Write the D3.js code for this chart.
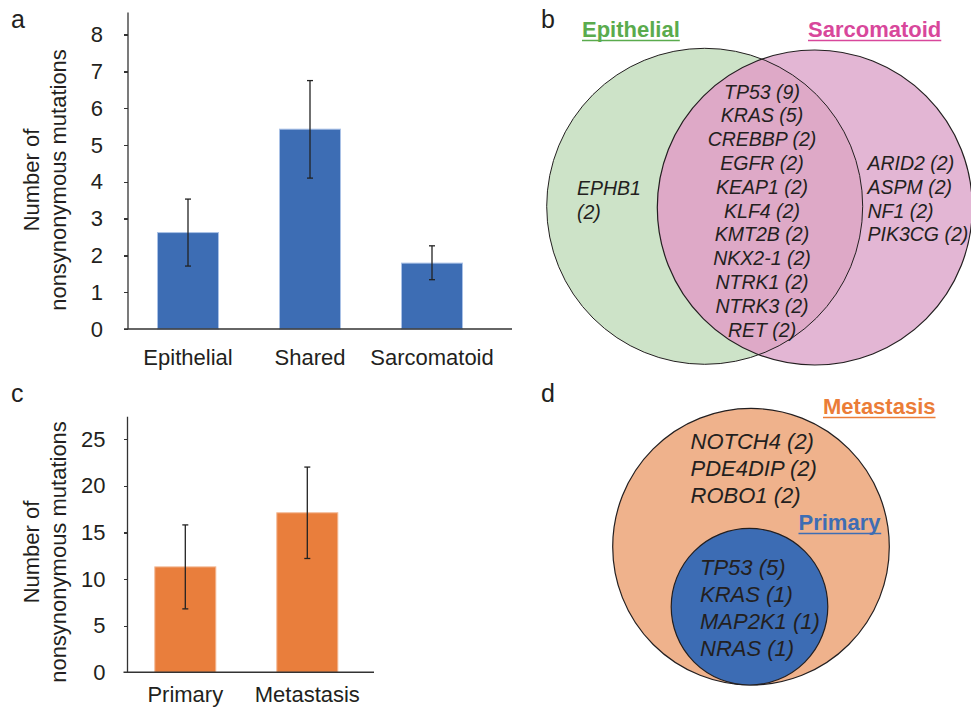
<!DOCTYPE html>
<meta charset="utf-8">
<style>
 body { margin: 0; background: #fff; }
 svg { font-family: "Liberation Sans", Arial, sans-serif; background: #fff; }
 .axis path, .axis line { stroke: #333; stroke-width: 1.3px; shape-rendering: crispEdges; }
 .axis text { font-size: 22px; fill: #231f20; }
 .gene { font-size: 19.5px; font-style: italic; fill: #231f20; }
 .gene22 { font-size: 22px; font-style: italic; fill: #231f20; }
</style>
<body>
<svg width="971" height="707"></svg>
</body>
<script src="https://cdn.jsdelivr.net/npm/d3@7"></script>
<script>
// panel a data
var groupsA = ["Epithelial", "Shared", "Sarcomatoid"];
var meanA = [2.62, 5.43, 1.79];
var lowA = [1.71, 4.1, 1.34];
var highA = [3.53, 6.75, 2.26];
var ticksA = [0, 1, 2, 3, 4, 5, 6, 7, 8];

// panel c data
var groupsC = ["Primary", "Metastasis"];
var meanC = [11.3, 17.1];
var lowC = [6.8, 12.2];
var highC = [15.8, 22.0];
var ticksC = [0, 5, 10, 15, 20, 25];

// panel b venn genes
var epiOnly = ["EPHB1", "(2)"];
var sharedGenes = ["TP53 (9)", "KRAS (5)", "CREBBP (2)", "EGFR (2)", "KEAP1 (2)", "KLF4 (2)",
                   "KMT2B (2)", "NKX2-1 (2)", "NTRK1 (2)", "NTRK3 (2)", "RET (2)"];
var sarcOnly = ["ARID2 (2)", "ASPM (2)", "NF1 (2)", "PIK3CG (2)"];

// panel d venn genes
var metOnly = ["NOTCH4 (2)", "PDE4DIP (2)", "ROBO1 (2)"];
var primGenes = ["TP53 (5)", "KRAS (1)", "MAP2K1 (1)", "NRAS (1)"];

var svg = d3.select("svg");
var ink = "#231f20";

function panelLabel(t, x, y) {
  svg.append("text").attr("x", x).attr("y", y).attr("font-size", 25).attr("fill", ink).text(t);
}

/* bar chart with error bars */
function barChart(opt) {
  var x = d3.scaleBand().domain(opt.groups).range(opt.xr).paddingInner(0.5).paddingOuter(0.25);
  var y = d3.scaleLinear().domain(opt.yd).range(opt.yr);
  var g = svg.append("g");

  g.append("g").attr("class", "axis")
    .attr("transform", "translate(" + opt.axisX + ",0)")
    .call(d3.axisLeft(y).tickValues(opt.ticks).tickSize(4).tickPadding(opt.pad).tickSizeOuter(0))
    .select(".domain").remove();
  g.append("line").attr("x1", opt.axisX).attr("x2", opt.axisX)
    .attr("y1", y(opt.yd[1])).attr("y2", y(0)).attr("stroke", "#333").attr("stroke-width", 1.3);

  g.selectAll("rect.bar").data(opt.groups).enter().append("rect")
    .attr("x", function(d) { return x(d); })
    .attr("width", x.bandwidth())
    .attr("y", function(d, i) { return y(opt.mean[i]); })
    .attr("height", function(d, i) { return y(0) - y(opt.mean[i]); })
    .attr("fill", opt.color).attr("stroke", opt.edge).attr("stroke-width", 1);

  g.append("line").attr("x1", opt.axisX - 4).attr("x2", opt.axisEnd)
    .attr("y1", y(0)).attr("y2", y(0)).attr("stroke", "#333").attr("stroke-width", 1.5);

  var eb = g.selectAll("g.err").data(opt.groups).enter().append("g")
    .attr("transform", function(d) { return "translate(" + (x(d) + x.bandwidth() / 2) + ",0)"; });
  eb.append("line").attr("y1", function(d, i) { return y(opt.high[i]); })
    .attr("y2", function(d, i) { return y(opt.low[i]); }).attr("stroke", "#222").attr("stroke-width", 1.3);
  [opt.high, opt.low].forEach(function(arr) {
    eb.append("line").attr("x1", -3).attr("x2", 3)
      .attr("y1", function(d, i) { return y(arr[i]); }).attr("y2", function(d, i) { return y(arr[i]); })
      .attr("stroke", "#222").attr("stroke-width", 1.3);
  });

  g.selectAll("text.xl").data(opt.groups).enter().append("text")
    .attr("x", function(d) { return x(d) + x.bandwidth() / 2; })
    .attr("y", opt.labelY).attr("text-anchor", "middle").attr("font-size", 22).attr("fill", ink)
    .text(function(d) { return d; });

  var t = g.append("text").attr("transform", "translate(0," + opt.titleY + ") rotate(-90)")
    .attr("text-anchor", "middle").attr("font-size", 22).attr("fill", ink);
  t.append("tspan").attr("x", 0).attr("y", 39).text("Number of");
  t.append("tspan").attr("x", 0).attr("y", 66).text("nonsynonymous mutations");
}

barChart({groups: groupsA, mean: meanA, low: lowA, high: highA, ticks: ticksA,
  xr: [127, 493], yd: [0, 8.6], yr: [329, 12.5], axisX: 128, axisEnd: 512, pad: 21,
  color: "#3d6db4", edge: "#a9c1e6", labelY: 365, titleY: 180});
barChart({groups: groupsC, mean: meanC, low: lowC, high: highC, ticks: ticksC,
  xr: [124.3, 368.3], yd: [0, 27.4], yr: [672.3, 416.7], axisX: 127.5, axisEnd: 374, pad: 18,
  color: "#e97e3c", edge: "#f3b893", labelY: 702, titleY: 552});

panelLabel("a", 11, 28);
panelLabel("b", 541, 28);
panelLabel("c", 11, 402);
panelLabel("d", 541, 402);

/* panel b venn */
var cE = {x: 704.7, y: 206.3, r: 158};
var cS = {x: 814.8, y: 207.5, r: 157.5};
svg.append("clipPath").attr("id", "clipE").append("circle")
  .attr("cx", cE.x).attr("cy", cE.y).attr("r", cE.r);
svg.append("circle").attr("cx", cE.x).attr("cy", cE.y).attr("r", cE.r).attr("fill", "#cde3c8");
svg.append("circle").attr("cx", cS.x).attr("cy", cS.y).attr("r", cS.r).attr("fill", "#e3b6d4");
svg.append("circle").attr("cx", cS.x).attr("cy", cS.y).attr("r", cS.r).attr("fill", "#dea9c7")
  .attr("clip-path", "url(#clipE)");
svg.append("circle").attr("cx", cE.x).attr("cy", cE.y).attr("r", cE.r).attr("fill", "none").attr("stroke", "#231f20").attr("stroke-width", 1);
svg.append("circle").attr("cx", cS.x).attr("cy", cS.y).attr("r", cS.r).attr("fill", "none").attr("stroke", "#231f20").attr("stroke-width", 1.2);

function title(t, x, y, color, anchor) {
  var el = svg.append("text").attr("x", x).attr("y", y).attr("font-size", 22).attr("font-weight", "bold")
    .attr("fill", color).attr("text-anchor", anchor || "start").text(t);
  var bb = el.node().getBBox();
  svg.append("line").attr("x1", bb.x).attr("x2", bb.x + bb.width)
    .attr("y1", y + 3.5).attr("y2", y + 3.5).attr("stroke", color).attr("stroke-width", 1.6);
}
title("Epithelial", 582, 37, "#5aab4d");
title("Sarcomatoid", 808, 37, "#d8479b");

function geneList(arr, x, y0, dy, cls, anchor) {
  svg.selectAll(null).data(arr).enter().append("text")
    .attr("class", cls).attr("x", x).attr("y", function(d, i) { return y0 + i * dy; })
    .attr("dy", "0.35em").attr("text-anchor", anchor).text(function(d) { return d; });
}
geneList(sharedGenes, 762, 91.7, 23.8, "gene", "middle");
geneList(epiOnly, 577, 188.3, 23.4, "gene", "start");
geneList(sarcOnly, 867.5, 163.3, 23.7, "gene", "start");

/* panel d venn */
var cM = {x: 751, y: 546.7, r: 138.3};
var cP = {x: 749.5, y: 606.7, r: 78.3};
svg.append("circle").attr("cx", cM.x).attr("cy", cM.y).attr("r", cM.r)
  .attr("fill", "#efb28c").attr("stroke", "#231f20").attr("stroke-width", 1.2);
svg.append("circle").attr("cx", cP.x).attr("cy", cP.y).attr("r", cP.r)
  .attr("fill", "#3c6cb4").attr("stroke", "#231f20").attr("stroke-width", 1.2);
title("Metastasis", 823, 414, "#eb7d38");
title("Primary", 798.5, 530, "#3d6db4");
geneList(metOnly, 690.5, 441, 27, "gene22", "start");
geneList(primGenes, 700, 567.7, 27, "gene22", "start");
</script>
